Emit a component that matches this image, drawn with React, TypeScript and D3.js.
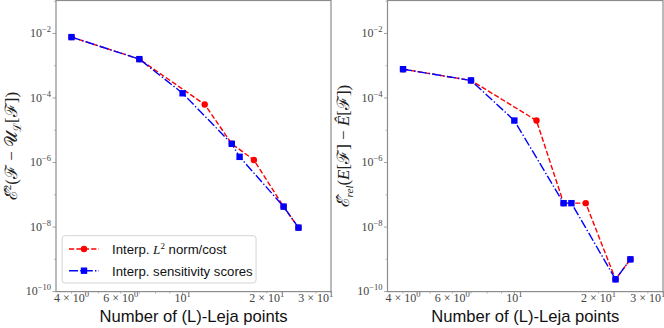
import React from "react";
import * as d3 from "d3";

const redX = [4, 7, 12, 15, 18, 23, 26];
const blueX = [4, 7, 10, 15, 16, 23, 26];
const redLeft = [7.7e-3, 1.6e-3, 6.3e-5, 3.8e-6, 1.2e-6, 4.3e-8, 9.6e-9];
const blueLeft = [7.7e-3, 1.6e-3, 1.4e-4, 3.8e-6, 1.5e-6, 4.3e-8, 9.6e-9];
const redRight = [7.8e-4, 3.5e-4, 2.0e-5, 5.5e-8, 5.5e-8, 2.4e-10, 1.0e-9];
const blueRight = [7.8e-4, 3.5e-4, 2.0e-5, 5.5e-8, 5.5e-8, 2.4e-10, 1.0e-9];

const xTickLabels = [
  { v: 4, m: "4 × ", e: "0" },
  { v: 6, m: "6 × ", e: "0" },
  { v: 10, m: "", e: "1" },
  { v: 20, m: "2 × ", e: "1" },
  { v: 30, m: "3 × ", e: "1" },
];
const xMinor = [4, 5, 6, 7, 8, 9, 20, 30];
const yMajor = [-10, -8, -6, -4, -2];
const yMinor = [-9, -7, -5, -3, -1];

const legendLabels = ["Interp. ", "Interp. sensitivity scores"];

const W = 664;
const H = 328;
const TOP = 0.5;
const BOTTOM = 291.6;
const X_DOMAIN: [number, number] = [3.52, 34.0];
const Y_DOMAIN: [number, number] = [1e-10, 1.05e-1];
const SPINE = "#8c8c8c";
const SERIF = "'Liberation Serif', 'DejaVu Serif', serif";
const SANS = "'Liberation Sans', Arial, sans-serif";

function Square({ x, y }: { x: number; y: number }) {
  return <rect x={x - 3.2} y={y - 3.2} width={6.4} height={6.4} fill="#0000ff" />;
}
function Circle({ x, y }: { x: number; y: number }) {
  return <circle cx={x} cy={y} r={3.2} fill="#ff0000" />;
}

function Panel({
  left,
  right,
  red,
  blue,
  ylabel,
  legend,
}: {
  left: number;
  right: number;
  red: number[];
  blue: number[];
  ylabel: React.ReactNode;
  legend: boolean;
}) {
  const x = d3.scaleLog().domain(X_DOMAIN).range([left, right]);
  const y = d3.scaleLog().domain(Y_DOMAIN).range([BOTTOM, TOP]);
  const line = d3
    .line<[number, number]>()
    .x((d) => x(d[0]))
    .y((d) => y(d[1]));
  const redPts: [number, number][] = redX.map((v, i) => [v, red[i]]);
  const bluePts: [number, number][] = blueX.map((v, i) => [v, blue[i]]);
  const mid = (TOP + BOTTOM) / 2;
  return (
    <g>
      {xMinor.map((v) => (
        <line key={"xm" + v} x1={x(v)} x2={x(v)} y1={BOTTOM} y2={BOTTOM + 2} stroke={SPINE} strokeWidth={0.6} />
      ))}
      <line x1={x(10)} x2={x(10)} y1={BOTTOM} y2={BOTTOM + 3.5} stroke={SPINE} strokeWidth={0.8} />
      {yMajor.map((e) => (
        <line key={"ym" + e} x1={left - 3.5} x2={left} y1={y(Math.pow(10, e))} y2={y(Math.pow(10, e))} stroke={SPINE} strokeWidth={0.8} />
      ))}
      {yMinor.map((e) => (
        <line key={"yn" + e} x1={left - 2} x2={left} y1={y(Math.pow(10, e))} y2={y(Math.pow(10, e))} stroke={SPINE} strokeWidth={0.6} />
      ))}
      {xTickLabels.map((t) => (
        <text key={"xl" + t.v} x={x(t.v)} y={302.3} textAnchor="middle" fontFamily={SERIF} fontSize={12} fill="#444">
          {t.m}10
          <tspan dy={-5} fontSize={8.5}>{t.e}</tspan>
        </text>
      ))}
      {yMajor.map((e) => (
        <text key={"yl" + e} x={left - 5} y={y(Math.pow(10, e)) + 3.8} textAnchor="end" fontFamily={SERIF} fontSize={12} fill="#444">
          10
          <tspan dy={-5} fontSize={8.5}>{"−" + Math.abs(e)}</tspan>
        </text>
      ))}
      <path d={line(redPts) || ""} fill="none" stroke="#ff0000" strokeWidth={1.4} strokeDasharray="5.2,2.2" />
      {redPts.map((p, i) => (
        <Circle key={"rc" + i} x={x(p[0])} y={y(p[1])} />
      ))}
      <path d={line(bluePts) || ""} fill="none" stroke="#0000ff" strokeWidth={1.4} strokeDasharray="9,2.2,1.4,2.2" />
      {bluePts.map((p, i) => (
        <Square key={"bs" + i} x={x(p[0])} y={y(p[1])} />
      ))}
      <rect x={left} y={TOP} width={right - left} height={BOTTOM - TOP} fill="none" stroke={SPINE} strokeWidth={1.2} />
      <text x={x(Math.sqrt(X_DOMAIN[0] * X_DOMAIN[1]))} y={321.5} textAnchor="middle" fontFamily={SANS} fontSize={16.6} fill="#111">
        Number of (L)-Leja points
      </text>
      <text transform={`translate(${left - 39},${mid}) rotate(-90)`} textAnchor="middle" fontFamily={SERIF} fontSize={17} fill="#222">
        {ylabel}
      </text>
      {legend && (
        <g>
          <rect x={x(3.7)} y={235.7} width={194} height={47.3} rx={3} fill="#fff" fillOpacity={0.8} stroke="#d0d0d0" strokeWidth={0.9} />
          <line x1={69} x2={99} y1={249} y2={249} stroke="#ff0000" strokeWidth={1.4} strokeDasharray="5.2,2.2" />
          <Circle x={84} y={249} />
          <line x1={69} x2={99} y1={270.7} y2={270.7} stroke="#0000ff" strokeWidth={1.4} strokeDasharray="9,2.2,1.4,2.2" />
          <Square x={84} y={270.7} />
          <text x={112} y={253.8} fontFamily={SANS} fontSize={13.2} fill="#111">
            {legendLabels[0]}
            <tspan fontFamily={SERIF} fontStyle="italic">L</tspan>
            <tspan dy={-5} fontSize={9} fontFamily={SERIF}>2</tspan>
            <tspan dy={5}> norm/cost</tspan>
          </text>
          <text x={112} y={275.5} fontFamily={SANS} fontSize={13.2} fill="#111">
            {legendLabels[1]}
          </text>
        </g>
      )}
    </g>
  );
}

export default function App() {
  const leftLabel = (
    <>
      <tspan>{"ℰ\u0302"}</tspan>
      <tspan dy={-6} fontSize={11}>2</tspan>
      <tspan dy={6}>{"(ℱ − "}</tspan>
      <tspan>{"𝒰"}</tspan>
      <tspan dy={4} fontSize={11}>{"ℒ"}</tspan>
      <tspan dy={-4}>{"[ℱ])"}</tspan>
    </>
  );
  const rightLabel = (
    <>
      <tspan>{"ℰ\u0302"}</tspan>
      <tspan dy={4} fontSize={11} fontStyle="italic">rel</tspan>
      <tspan dy={-4}>(</tspan>
      <tspan fontStyle="italic">E</tspan>
      <tspan>{"[ℱ] − "}</tspan>
      <tspan fontStyle="italic">{"E\u0302"}</tspan>
      <tspan>{"[ℱ])"}</tspan>
    </>
  );
  return (
    <svg width={W} height={H} style={{ position: "absolute", left: 0, top: 0, background: "#fff" }}>
      <rect x={0} y={0} width={W} height={H} fill="#fff" />
      <Panel left={56} right={331} red={redLeft} blue={blueLeft} ylabel={leftLabel} legend={true} />
      <Panel left={387.5} right={663} red={redRight} blue={blueRight} ylabel={rightLabel} legend={false} />
    </svg>
  );
}
